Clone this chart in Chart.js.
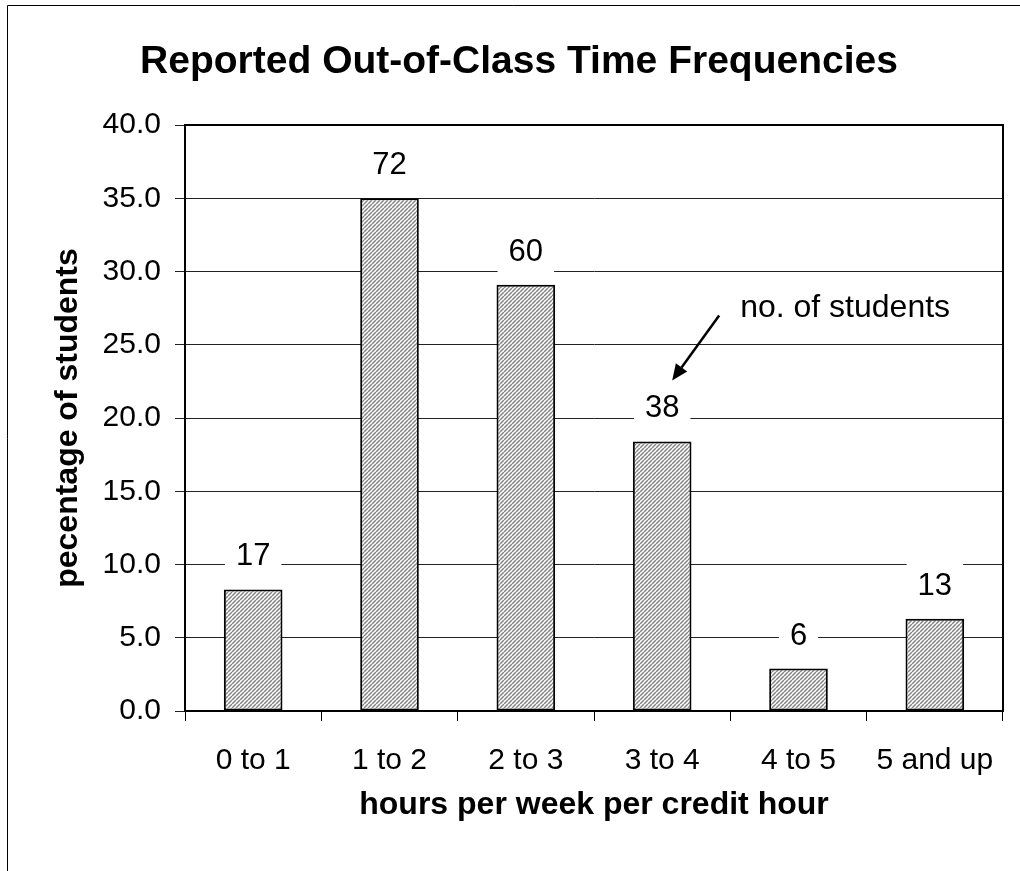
<!DOCTYPE html>
<html><head><meta charset="utf-8">
<script src="https://cdn.jsdelivr.net/npm/chart.js@4.4.1/dist/chart.umd.min.js"></script>
<style>html,body{margin:0;padding:0;background:#fff;}#wrap{width:1020px;height:871px;}</style>
</head><body><div id="wrap"><canvas id="c" width="1020" height="871"></canvas></div>
<script>
const categories = ['0 to 1', '1 to 2', '2 to 3', '3 to 4', '4 to 5', '5 and up'];
const percentages = [8.3, 35.0, 29.1, 18.4, 2.9, 6.3];
const studentCounts = [17, 72, 60, 38, 6, 13];
const yTickValues = [0, 5, 10, 15, 20, 25, 30, 35, 40];
const titleText = 'Reported Out-of-Class Time Frequencies';
const yAxisTitle = 'pecentage of students';
const xAxisTitle = 'hours per week per credit hour';
const annotationText = 'no. of students';
const annotatedIndex = 3;

const FONT = "'Liberation Sans', Arial, sans-serif";

function makeHatch() {
  const s = 4;
  const p = document.createElement('canvas'); p.width = s; p.height = s;
  const g = p.getContext('2d');
  g.fillStyle = '#fff'; g.fillRect(0, 0, s, s);
  g.strokeStyle = '#858585'; g.lineWidth = 1.5;
  g.beginPath();
  for (let k = -s; k <= 2 * s; k += s) { g.moveTo(k, s); g.lineTo(k + s, 0); }
  g.stroke();
  return g.createPattern(p, 'repeat');
}

const framePlugin = {
  id: 'frame',
  beforeDraw(chart) {
    const ctx = chart.ctx;
    ctx.save();
    ctx.strokeStyle = '#000'; ctx.lineWidth = 1;
    ctx.beginPath();
    ctx.moveTo(7.5, chart.height); ctx.lineTo(7.5, 5.5); ctx.lineTo(chart.width, 5.5);
    ctx.stroke();
    ctx.restore();
  }
};

const labelPlugin = {
  id: 'valueLabels',
  afterDatasetsDraw(chart) {
    const ctx = chart.ctx;
    const a = chart.chartArea;
    ctx.save();
    ctx.strokeStyle = '#000'; ctx.lineWidth = 2;
    ctx.strokeRect(a.left, a.top, a.right - a.left, a.bottom - a.top);
    const meta = chart.getDatasetMeta(0);
    ctx.font = '31px ' + FONT;
    ctx.textAlign = 'center';
    ctx.textBaseline = 'alphabetic';
    meta.data.forEach((el, i) => {
      const txt = String(studentCounts[i]);
      const w = ctx.measureText(txt).width + 22;
      const base = el.y - 24;
      ctx.fillStyle = '#fff';
      ctx.fillRect(el.x - w / 2, base - 32, w, 44);
      ctx.fillStyle = '#000';
      ctx.fillText(txt, el.x, base);
    });
    ctx.restore();
  },
  afterDraw(chart) {
    const ctx = chart.ctx;
    const el = chart.getDatasetMeta(0).data[annotatedIndex];
    const ex = el.x + 10, ey = el.y - 61;
    const sx = ex + 47, sy = ey - 65;
    ctx.save();
    ctx.strokeStyle = '#000'; ctx.fillStyle = '#000'; ctx.lineWidth = 2.5;
    const ang = Math.atan2(ey - sy, ex - sx);
    const hl = 16, hw = 7;
    const bx = ex - hl * Math.cos(ang), by = ey - hl * Math.sin(ang);
    ctx.beginPath(); ctx.moveTo(sx, sy); ctx.lineTo(bx, by); ctx.stroke();
    ctx.beginPath();
    ctx.moveTo(ex, ey);
    ctx.lineTo(bx + hw * Math.sin(ang), by - hw * Math.cos(ang));
    ctx.lineTo(bx - hw * Math.sin(ang), by + hw * Math.cos(ang));
    ctx.closePath(); ctx.fill();
    ctx.font = '32px ' + FONT;
    ctx.textAlign = 'left'; ctx.textBaseline = 'alphabetic';
    ctx.fillText(annotationText, sx + 21, sy + 2);
    ctx.restore();
  }
};

new Chart(document.getElementById('c'), {
  type: 'bar',
  data: {
    labels: categories,
    datasets: [{
      data: percentages,
      backgroundColor: makeHatch(),
      borderColor: '#000',
      borderWidth: 2,
      borderSkipped: false,
      categoryPercentage: 1.0,
      barPercentage: 0.43
    }]
  },
  options: {
    responsive: false,
    animation: false,
    devicePixelRatio: 1,
    layout: { padding: { left: 18, right: 0, top: 0, bottom: 0 } },
    plugins: {
      legend: { display: false },
      tooltip: { enabled: false },
      title: {
        display: true, text: titleText, color: '#000',
        font: { family: FONT, size: 39, weight: 'bold', lineHeight: 1.2 },
        padding: { top: 38.6, bottom: 39.6 }
      }
    },
    scales: {
      x: {
        offset: true,
        grid: { display: true, drawOnChartArea: false, drawTicks: true, tickLength: 10, color: '#000', lineWidth: 1, offset: true },
        border: { display: true, color: '#000', width: 2 },
        ticks: { color: '#000', font: { family: FONT, size: 30 }, padding: 22, maxRotation: 0, autoSkip: false },
        title: { display: true, text: xAxisTitle, color: '#000', font: { family: FONT, size: 32, weight: 'bold', lineHeight: 1.2 }, padding: { top: 0, bottom: 47 } },
        afterFit(s) { s.height = 160; }
      },
      y: {
        min: 0, max: 40,
        afterBuildTicks(s) { s.ticks = yTickValues.map(v => ({ value: v })); },
        grid: { color: '#222', lineWidth: 1, tickLength: 10, drawTicks: true },
        border: { display: true, color: '#000', width: 2 },
        ticks: { color: '#000', font: { family: FONT, size: 30 }, padding: 14, callback: v => Number(v).toFixed(1) },
        title: { display: true, text: yAxisTitle, color: '#000', font: { family: FONT, size: 32, weight: 'bold', lineHeight: 1.2 }, padding: { top: 30.8, bottom: 0 } },
        afterFit(s) { s.width = 167; }
      },
      yR: {
        position: 'right', display: true,
        grid: { display: false, drawTicks: false },
        border: { display: false },
        ticks: { display: false },
        afterFit(s) { s.width = 17; }
      }
    }
  },
  plugins: [framePlugin, labelPlugin]
});
</script></body></html>
